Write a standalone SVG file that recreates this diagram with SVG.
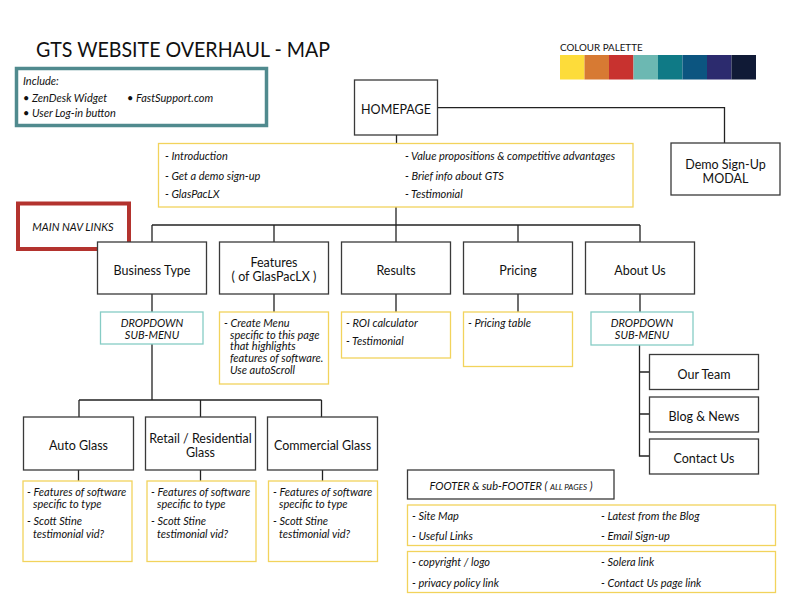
<svg xmlns="http://www.w3.org/2000/svg" width="792" height="612" viewBox="0 0 792 612">
<style>
.bg{fill:#fff}
.box{fill:#fff;stroke:#3a3a3a;stroke-width:1.3}
.yel{fill:#fff;stroke:#F2D35C;stroke-width:1.3}
.teal{fill:#fff;stroke:#86CCC5;stroke-width:1.3}
.t{font-family:Lato,"Liberation Sans",sans-serif;font-size:12.5px;fill:#111}
.i{font-family:Lato,"Liberation Sans",sans-serif;font-style:italic;font-size:11px;fill:#111}
.c{text-anchor:middle}
.ln{fill:none;stroke:#222;stroke-width:1.3}
</style>
<rect class="bg" x="0" y="0" width="792" height="612"/>

<g id="title">
<text x="36" y="57" font-family="Lato,'Liberation Sans',sans-serif" font-size="21" fill="#111" textLength="294" lengthAdjust="spacingAndGlyphs">GTS WEBSITE OVERHAUL - MAP</text>
</g>

<g id="include">
<rect x="16.5" y="68.5" width="250" height="57" fill="#fff" stroke="#508A8E" stroke-width="3.5"/>
<text class="i" x="23" y="85">Include:</text>
<text class="i" x="23" y="102">• ZenDesk Widget</text>
<text class="i" x="127" y="102">• FastSupport.com</text>
<text class="i" x="23" y="117">• User Log-in button</text>
</g>

<g id="palette">
<text x="560" y="51" font-family="Lato,'Liberation Sans',sans-serif" font-size="9.8" fill="#111">COLOUR PALETTE</text>
<rect x="560" y="55" width="24.5" height="24.5" fill="#FDDC3A"/>
<rect x="584.5" y="55" width="24.5" height="24.5" fill="#D77A33"/>
<rect x="609" y="55" width="24.5" height="24.5" fill="#C8322F"/>
<rect x="633.5" y="55" width="24.5" height="24.5" fill="#6CB8B2"/>
<rect x="658" y="55" width="24.5" height="24.5" fill="#0F7A86"/>
<rect x="682.5" y="55" width="24.5" height="24.5" fill="#0C5580"/>
<rect x="707" y="55" width="24.5" height="24.5" fill="#2C2B6E"/>
<rect x="731.5" y="55" width="24.5" height="24.5" fill="#101A36"/>
</g>

<g id="connectors">
<path class="ln" d="M437 107.7 H724.5 V143"/>
<path class="ln" d="M396.5 135 V143"/>
<path class="ln" d="M396 207 V225"/>
<path class="ln" d="M152 225 H640"/>
<path class="ln" d="M152 225 V242 M274 225 V242 M396 225 V242 M518 225 V242 M640 225 V242"/>
<path class="ln" d="M152 294 V312 M274 294 V312 M396 294 V312 M518 294 V312 M640 294 V312"/>
<path class="ln" d="M152 344 V400 M79 400 H321.5 M79 400 V417 M200.5 400 V417 M321.5 400 V417"/>
<path class="ln" d="M78.5 470 V481 M200.5 470 V481 M322.5 470 V481"/>
<path class="ln" d="M639.5 345 V456 H649.5 M639.5 372 H649.5 M639.5 414 H649.5"/>
</g>

<g id="homepage">
<rect class="box" x="354.5" y="80" width="83" height="55"/>
<text class="t c" x="396" y="114">HOMEPAGE</text>
</g>

<g id="demo-modal">
<rect class="box" x="671" y="143" width="109" height="52"/>
<text class="t c" x="725.5" y="169">Demo Sign-Up</text>
<text class="t c" x="725.5" y="183">MODAL</text>
</g>

<g id="homepage-content">
<rect class="yel" x="158.5" y="143.5" width="474.5" height="63.5"/>
<text class="i" x="165" y="160">- Introduction</text>
<text class="i" x="165" y="180">- Get a demo sign-up</text>
<text class="i" x="165" y="198">- GlasPacLX</text>
<text class="i" x="405" y="160">- Value propositions &amp; competitive advantages</text>
<text class="i" x="405" y="180">- Brief info about GTS</text>
<text class="i" x="405" y="198">- Testimonial</text>
</g>

<g id="main-nav-label">
<rect x="18" y="203.5" width="111" height="45.5" fill="#fff" stroke="#B3332E" stroke-width="4"/>
<text class="i c" x="73" y="231" font-size="9.8">MAIN NAV LINKS</text>
</g>

<g id="business-type">
<rect class="box" x="97.5" y="242" width="109" height="52"/>
<text class="t c" x="152" y="275">Business Type</text>
</g>
<g id="features">
<rect class="box" x="219.5" y="242" width="109" height="52"/>
<text class="t c" x="274" y="266.5">Features</text>
<text class="t c" x="274" y="281">( of GlasPacLX )</text>
</g>
<g id="results">
<rect class="box" x="341.5" y="242" width="109" height="52"/>
<text class="t c" x="396" y="275">Results</text>
</g>
<g id="pricing">
<rect class="box" x="463.5" y="242" width="109" height="52"/>
<text class="t c" x="518" y="275">Pricing</text>
</g>
<g id="about-us">
<rect class="box" x="585.5" y="242" width="109" height="52"/>
<text class="t c" x="640" y="275">About Us</text>
</g>

<g id="business-dropdown">
<rect class="teal" x="100.5" y="312" width="102.5" height="32"/>
<text class="i c" x="152" y="327">DROPDOWN</text>
<text class="i c" x="152" y="338.5">SUB-MENU</text>
</g>
<g id="features-content">
<rect class="yel" x="219.5" y="312" width="109" height="72"/>
<text class="i" x="224" y="327">- Create Menu</text>
<text class="i" x="230" y="338.5">specific to this page</text>
<text class="i" x="230" y="350">that highlights</text>
<text class="i" x="230" y="362">features of software.</text>
<text class="i" x="230" y="374">Use autoScroll</text>
</g>
<g id="results-content">
<rect class="yel" x="341.5" y="312" width="109" height="46"/>
<text class="i" x="346" y="327">- ROI calculator</text>
<text class="i" x="346" y="344.5">- Testimonial</text>
</g>
<g id="pricing-content">
<rect class="yel" x="463.5" y="312" width="109" height="54.5"/>
<text class="i" x="468" y="327">- Pricing table</text>
</g>
<g id="about-dropdown">
<rect class="teal" x="591" y="312" width="102" height="33"/>
<text class="i c" x="642" y="327">DROPDOWN</text>
<text class="i c" x="642" y="338.5">SUB-MENU</text>
</g>

<g id="our-team">
<rect class="box" x="649.5" y="354.5" width="109" height="35"/>
<text class="t c" x="704" y="378.5">Our Team</text>
</g>
<g id="blog-news">
<rect class="box" x="649.5" y="397" width="109" height="35"/>
<text class="t c" x="704" y="421">Blog &amp; News</text>
</g>
<g id="contact-us">
<rect class="box" x="649.5" y="439" width="109" height="35"/>
<text class="t c" x="704" y="463">Contact Us</text>
</g>

<g id="auto-glass">
<rect class="box" x="23.5" y="417" width="110" height="53"/>
<text class="t c" x="78.5" y="449.5">Auto Glass</text>
</g>
<g id="retail-glass">
<rect class="box" x="145.5" y="417" width="110" height="53"/>
<text class="t c" x="200.5" y="443">Retail / Residential</text>
<text class="t c" x="200.5" y="457">Glass</text>
</g>
<g id="commercial-glass">
<rect class="box" x="267.5" y="417" width="110" height="53"/>
<text class="t c" x="322.5" y="449.5">Commercial Glass</text>
</g>

<g id="auto-glass-content">
<rect class="yel" x="23" y="481" width="109" height="80.5"/>
<text class="i" x="27" y="495.5">- Features of software</text>
<text class="i" x="33" y="507.5">specific to type</text>
<text class="i" x="27" y="525">- Scott Stine</text>
<text class="i" x="33" y="537.5">testimonial vid?</text>
</g>
<g id="retail-glass-content">
<rect class="yel" x="147" y="481" width="109" height="80.5"/>
<text class="i" x="151" y="495.5">- Features of software</text>
<text class="i" x="157" y="507.5">specific to type</text>
<text class="i" x="151" y="525">- Scott Stine</text>
<text class="i" x="157" y="537.5">testimonial vid?</text>
</g>
<g id="commercial-glass-content">
<rect class="yel" x="268.5" y="481" width="109" height="80.5"/>
<text class="i" x="273" y="495.5">- Features of software</text>
<text class="i" x="279" y="507.5">specific to type</text>
<text class="i" x="273" y="525">- Scott Stine</text>
<text class="i" x="279" y="537.5">testimonial vid?</text>
</g>

<g id="footer-label">
<rect class="box" x="407.5" y="470" width="206.5" height="29"/>
<text class="i" x="429.5" y="489.5">FOOTER &amp; sub-FOOTER ( <tspan font-size="8">ALL PAGES</tspan> )</text>
</g>
<g id="footer">
<rect class="yel" x="407.5" y="505" width="368" height="40.5"/>
<text class="i" x="412" y="519.5">- Site Map</text>
<text class="i" x="412" y="540">- Useful Links</text>
<text class="i" x="601" y="519.5">- Latest from the Blog</text>
<text class="i" x="601" y="540">- Email Sign-up</text>
</g>
<g id="sub-footer">
<rect class="yel" x="407.5" y="551.5" width="368" height="41"/>
<text class="i" x="412" y="566">- copyright / logo</text>
<text class="i" x="412" y="587">- privacy policy link</text>
<text class="i" x="601" y="566">- Solera link</text>
<text class="i" x="601" y="587">- Contact Us page link</text>
</g>
</svg>
